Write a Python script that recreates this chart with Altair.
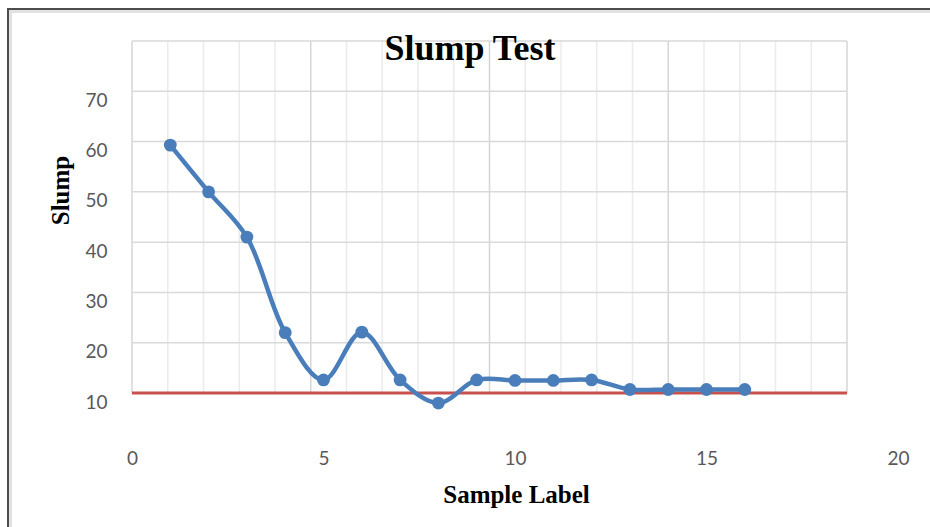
import altair as alt
import pandas as pd

# Slump readings per sample
sample = list(range(1, 17))
slump = [59.3, 50.0, 41.0, 22.0, 12.6, 22.1, 12.6, 8.0,
         12.6, 12.5, 12.5, 12.6, 10.7, 10.7, 10.7, 10.7]

# Limit line (secondary horizontal scale 0-20)
limit_x = [0, 20]
limit_y = [10, 10]

# Axis ticks / gridlines
x_ticks = [0, 5, 10, 15, 20]
y_ticks = [10, 20, 30, 40, 50, 60, 70]
y_grid = [10, 20, 30, 40, 50, 60, 70, 80]
x_grid = list(range(0, 21))

BLUE = "#4a7ebb"
RED = "#c8514e"
LABEL_FONT = "Lato"
SERIF = "Liberation Serif"

W, H = 766, 352
y_scale = alt.Scale(domain=[10, 80], nice=False, zero=False)
grid_scale = alt.Scale(domain=[0, 20], range=[0, 715], nice=False, zero=False)
data_x_scale = alt.Scale(domain=[0, 20], nice=False, zero=False)

y_axis = alt.Axis(
    values=y_ticks, grid=False, domain=False, ticks=False, tickSize=0,
    labelFont=LABEL_FONT, labelFontSize=19, labelColor="#595959",
    labelPadding=25, labelOffset=9, labelFlush=False, labelOverlap=False,
    title="Slump", titleFont=SERIF, titleFontSize=25,
    titleFontWeight="bold", titleColor="black",
    titleX=-72, titleY=149, titleAngle=-90,
    titleAlign="center", titleBaseline="middle",
)
x_axis = alt.Axis(
    values=x_ticks, grid=False, domain=False, ticks=False, tickSize=0,
    labelFont=LABEL_FONT, labelFontSize=19, labelColor="#595959",
    labelPadding=71, labelBaseline="alphabetic", labelFlush=False,
    labelOverlap=False,
    title="Sample Label", titleFont=SERIF, titleFontSize=25,
    titleFontWeight="bold", titleColor="black",
    titleX=384, titleY=109, titleAlign="center", titleBaseline="alphabetic",
)

data = pd.DataFrame({"sample": sample, "slump": slump})
limit = pd.DataFrame({"gx": limit_x, "gy": limit_y})
vgrid = pd.DataFrame({"gx": x_grid})
hgrid = pd.DataFrame({"gy": y_grid})
one = pd.DataFrame({"k": [0]})

# Outer frame
frame_outer = alt.Chart(one).mark_rect(filled=False, stroke="#4d4d4d", strokeWidth=2).encode(
    x=alt.value(-124), x2=alt.value(1000), y=alt.value(-32), y2=alt.value(700)
)
frame_inner = alt.Chart(one).mark_rect(filled=False, stroke="#e2e2e2", strokeWidth=3).encode(
    x=alt.value(-121.5), x2=alt.value(1000), y=alt.value(-29.5), y2=alt.value(700)
)

# Vertical gridlines: minor every 1, major every 5
vbase = alt.Chart(vgrid).transform_calculate(y0="10", y1="80")
v_minor = vbase.transform_filter("datum.gx % 5 != 0").mark_rule(
    color="#ebebeb", strokeWidth=1.5
).encode(
    x=alt.X("gx:Q", scale=grid_scale, axis=None),
    y=alt.Y("y0:Q", scale=y_scale, axis=y_axis),
    y2="y1:Q",
)
v_major = vbase.transform_filter("datum.gx % 5 == 0").mark_rule(
    color="#d6d6d6", strokeWidth=1.5
).encode(
    x=alt.X("gx:Q", scale=grid_scale, axis=None),
    y=alt.Y("y0:Q", scale=y_scale, axis=y_axis),
    y2="y1:Q",
)

# Horizontal gridlines
h_grid = alt.Chart(hgrid).transform_calculate(x0="0", x1="20").mark_rule(
    color="#d9d9d9", strokeWidth=1.5
).encode(
    x=alt.X("x0:Q", scale=grid_scale, axis=None),
    x2="x1:Q",
    y=alt.Y("gy:Q", scale=y_scale, axis=y_axis),
)

# Red limit line
limit_line = alt.Chart(limit).mark_line(color=RED, strokeWidth=3).encode(
    x=alt.X("gx:Q", scale=grid_scale, axis=None),
    y=alt.Y("gy:Q", scale=y_scale, axis=y_axis),
)

series_line = alt.Chart(data).mark_line(
    color=BLUE, strokeWidth=4.5, interpolate="catmull-rom"
).encode(
    x=alt.X("sample:Q", scale=data_x_scale, axis=x_axis),
    y=alt.Y("slump:Q", scale=y_scale, axis=y_axis),
)
series_pts = alt.Chart(data).mark_circle(color=BLUE, size=165, opacity=1).encode(
    x=alt.X("sample:Q", scale=data_x_scale, axis=x_axis),
    y=alt.Y("slump:Q", scale=y_scale, axis=y_axis),
)

chart = alt.layer(
    frame_inner, frame_outer, v_minor, v_major, h_grid, limit_line,
    series_line + series_pts,
).resolve_scale(x="independent").properties(
    width=W,
    height=H,
    autosize=alt.AutoSizeParams(type="none"),
    padding={"left": 132, "top": 41, "right": 32, "bottom": 134},
    background="white",
    title=alt.TitleParams(
        text="Slump Test", font=SERIF, fontSize=36, fontWeight="bold",
        color="black", anchor="middle", baseline="alphabetic",
        offset=0, dx=-45, dy=88,
    ),
).configure_view(stroke=None)

chart.save("out.html", embed_options={"renderer": "svg", "actions": False})
